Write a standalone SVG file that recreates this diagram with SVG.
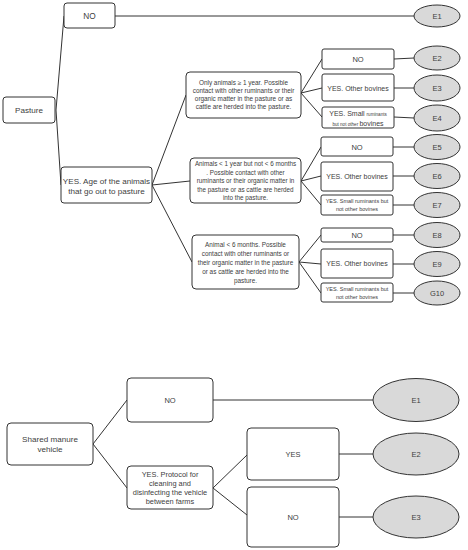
<svg xmlns="http://www.w3.org/2000/svg" width="468" height="550" viewBox="0 0 468 550">
<style>
text{font-family:"Liberation Sans",Arial,sans-serif;fill:#404040;text-anchor:middle}
.b{fill:#fff;stroke:#333;stroke-width:1}
.e{fill:#d9d9d9;stroke:#333;stroke-width:1}
.c line{stroke:#333;stroke-width:1}
</style>
<rect width="468" height="550" fill="#fff"/>
<g class="c" id="connectors">
<line x1="56" y1="110" x2="64" y2="16"/>
<line x1="56" y1="110" x2="61" y2="185"/>
<line x1="115" y1="16" x2="414" y2="16"/>
<line x1="152" y1="185" x2="186" y2="95"/>
<line x1="152" y1="185" x2="190" y2="181"/>
<line x1="152" y1="185" x2="192" y2="262"/>
<line x1="301" y1="93" x2="322" y2="59"/>
<line x1="301" y1="93" x2="322" y2="88"/>
<line x1="301" y1="93" x2="322" y2="117"/>
<line x1="394" y1="59" x2="414" y2="58"/>
<line x1="394" y1="88" x2="414" y2="88"/>
<line x1="394" y1="117" x2="414" y2="118"/>
<line x1="301" y1="181" x2="321" y2="147"/>
<line x1="301" y1="181" x2="321" y2="176"/>
<line x1="301" y1="181" x2="321" y2="205"/>
<line x1="393" y1="147" x2="414" y2="147"/>
<line x1="393" y1="176" x2="414" y2="176"/>
<line x1="393" y1="205" x2="414" y2="205"/>
<line x1="299" y1="262" x2="321" y2="235"/>
<line x1="299" y1="262" x2="321" y2="264"/>
<line x1="299" y1="262" x2="321" y2="293"/>
<line x1="393" y1="235" x2="414" y2="235"/>
<line x1="393" y1="264" x2="414" y2="264"/>
<line x1="393" y1="293" x2="414" y2="293"/>
<line x1="93" y1="444" x2="127" y2="400"/>
<line x1="93" y1="444" x2="127" y2="488"/>
<line x1="213" y1="400" x2="373" y2="400"/>
<line x1="213" y1="488" x2="247" y2="455"/>
<line x1="213" y1="488" x2="247" y2="515"/>
<line x1="339" y1="454" x2="373" y2="454"/>
<line x1="339" y1="517" x2="373" y2="517"/>
</g>
<g id="pasture"><rect class="b" x="3" y="97" width="52" height="26" rx="3"/><text x="29" y="113" font-size="8.1">Pasture</text></g>
<g id="no-top"><rect class="b" x="64" y="3" width="51" height="25" rx="3"/><text x="89.5" y="19" font-size="8.3">NO</text></g>
<g id="e1-top"><ellipse class="e" cx="437" cy="16" rx="23" ry="11"/><text x="437" y="19" font-size="7.5">E1</text></g>
<g id="yes-age"><rect class="b" x="61" y="167" width="91" height="36" rx="3"/><text x="106.5" y="184" font-size="8.1">YES. Age of the animals</text><text x="106.5" y="194" font-size="8.1">that go out to pasture</text></g>
<g id="age1"><rect class="b" x="186" y="72" width="115" height="46" rx="4"/>
<text x="243.5" y="85" font-size="6.4">Only animals ≥ 1 year. Possible</text>
<text x="243.5" y="93" font-size="6.4">contact with other ruminants or their</text>
<text x="243.5" y="101" font-size="6.4">organic matter in the pasture or as</text>
<text x="243.5" y="109" font-size="6.4">cattle are herded into the pasture.</text></g>
<g id="age2"><rect class="b" x="190" y="158" width="111" height="45" rx="4"/>
<text x="245.5" y="166" font-size="6.3">Animals &lt; 1 year but not &lt; 6 months</text>
<text x="245.5" y="174.5" font-size="6.3">. Possible contact with other</text>
<text x="245.5" y="183" font-size="6.3">ruminants or their organic matter in</text>
<text x="245.5" y="191.5" font-size="6.3">the pasture or as cattle are herded</text>
<text x="245.5" y="200" font-size="6.3">into the pasture.</text></g>
<g id="age3"><rect class="b" x="192" y="235" width="107" height="54" rx="4"/>
<text x="245.5" y="247" font-size="6.4">Animal &lt; 6 months. Possible</text>
<text x="245.5" y="256" font-size="6.4">contact with other ruminants or</text>
<text x="245.5" y="265" font-size="6.4">their organic matter in the pasture</text>
<text x="245.5" y="274" font-size="6.4">or as cattle are herded into the</text>
<text x="245.5" y="282.5" font-size="6.4">pasture.</text></g>
<g id="a1-no"><rect class="b" x="322" y="49" width="72" height="20" rx="2"/><text x="358" y="62" font-size="7.5">NO</text></g>
<g id="a1-bov"><rect class="b" x="322" y="74" width="72" height="27" rx="2"/><text x="358" y="90.5" font-size="7">YES. Other bovines</text></g>
<g id="a1-small"><rect class="b" x="322" y="107" width="72" height="21" rx="2"/><text x="358" y="116" font-size="7">YES. Small <tspan font-size="4.6">ruminants</tspan></text><text x="358" y="125.5" font-size="4.6">but not other <tspan font-size="7">bovines</tspan></text></g>
<g id="e2"><ellipse class="e" cx="437" cy="58" rx="23" ry="12"/><text x="437" y="61" font-size="7.5">E2</text></g>
<g id="e3"><ellipse class="e" cx="437" cy="88" rx="23" ry="13"/><text x="437" y="91" font-size="7.5">E3</text></g>
<g id="e4"><ellipse class="e" cx="437" cy="118" rx="23" ry="13"/><text x="437" y="121" font-size="7.5">E4</text></g>
<g id="a2-no"><rect class="b" x="321" y="137" width="72" height="19" rx="2"/><text x="357" y="149.5" font-size="7.5">NO</text></g>
<g id="a2-bov"><rect class="b" x="321" y="162" width="72" height="29" rx="2"/><text x="357" y="179" font-size="7">YES. Other bovines</text></g>
<g id="a2-small"><rect class="b" x="321" y="195" width="72" height="20" rx="2"/><text x="357" y="203" font-size="5.5">YES. Small ruminants but</text><text x="357" y="211" font-size="5.5">not other bovines</text></g>
<g id="e5"><ellipse class="e" cx="437" cy="147" rx="23" ry="12.5"/><text x="437" y="150" font-size="7.5">E5</text></g>
<g id="e6"><ellipse class="e" cx="437" cy="176" rx="23" ry="12.5"/><text x="437" y="179" font-size="7.5">E6</text></g>
<g id="e7"><ellipse class="e" cx="437" cy="205" rx="23" ry="12.5"/><text x="437" y="208" font-size="7.5">E7</text></g>
<g id="a3-no"><rect class="b" x="321" y="228" width="72" height="14" rx="2"/><text x="357" y="237.5" font-size="7.5">NO</text></g>
<g id="a3-bov"><rect class="b" x="321" y="249" width="72" height="29" rx="2"/><text x="357" y="266" font-size="7">YES. Other bovines</text></g>
<g id="a3-small"><rect class="b" x="321" y="283" width="72" height="19" rx="2"/><text x="357" y="291" font-size="5.5">YES. Small ruminants but</text><text x="357" y="299" font-size="5.5">not other bovines</text></g>
<g id="e8"><ellipse class="e" cx="437" cy="235" rx="23" ry="12.5"/><text x="437" y="238" font-size="7.5">E8</text></g>
<g id="e9"><ellipse class="e" cx="437" cy="264" rx="23" ry="12.5"/><text x="437" y="267" font-size="7.5">E9</text></g>
<g id="g10"><ellipse class="e" cx="437" cy="293" rx="23" ry="12"/><text x="437" y="296" font-size="7.5">G10</text></g>
<g id="shared"><rect class="b" x="7" y="423" width="86" height="42" rx="4"/><text x="50" y="442" font-size="8.1">Shared manure</text><text x="50" y="452" font-size="8.1">vehicle</text></g>
<g id="m-no"><rect class="b" x="127" y="378" width="86" height="44" rx="4"/><text x="170" y="403" font-size="7.5">NO</text></g>
<g id="m-yes"><rect class="b" x="127" y="466" width="86" height="43" rx="4"/>
<text x="170" y="476.5" font-size="7.4">YES. Protocol for</text>
<text x="170" y="485.5" font-size="7.4">cleaning and</text>
<text x="170" y="494.5" font-size="7.4">disinfecting the vehicle</text>
<text x="170" y="503.5" font-size="7.4">between farms</text></g>
<g id="p-yes"><rect class="b" x="247" y="428" width="92" height="52" rx="4"/><text x="293" y="457" font-size="7.5">YES</text></g>
<g id="p-no"><rect class="b" x="247" y="487" width="92" height="60" rx="4"/><text x="293" y="520" font-size="7.5">NO</text></g>
<g id="m-e1"><ellipse class="e" cx="416" cy="400" rx="43" ry="21.5"/><text x="416" y="403" font-size="7.5">E1</text></g>
<g id="m-e2"><ellipse class="e" cx="416" cy="454" rx="43" ry="21"/><text x="416" y="457" font-size="7.5">E2</text></g>
<g id="m-e3"><ellipse class="e" cx="416" cy="517" rx="43" ry="21"/><text x="416" y="520" font-size="7.5">E3</text></g>
</svg>
